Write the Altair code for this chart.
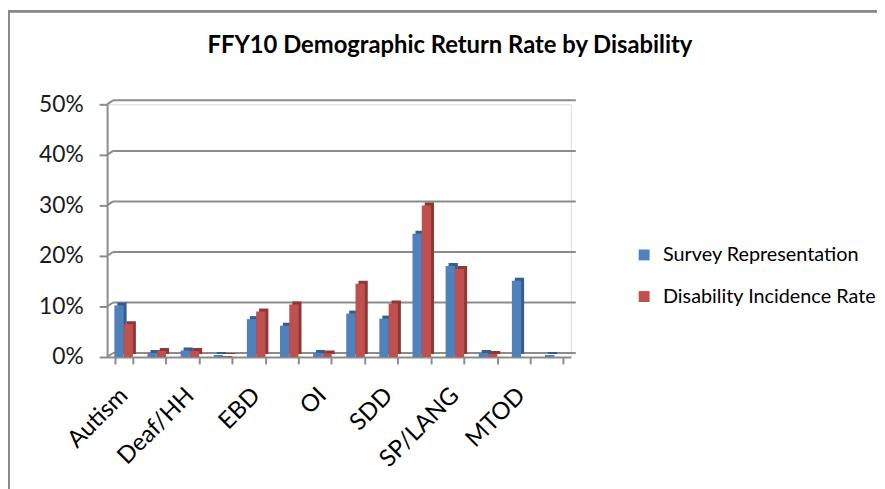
import altair as alt
import pandas as pd

categories = ["Autism", "D/B", "Deaf/HH", "DD", "EBD", "ID", "OI", "OHI",
              "SDD", "SLD", "SP/LANG", "TBI", "MTOD", "VI"]
shown_labels = ["Autism", "Deaf/HH", "EBD", "OI", "SDD", "SP/LANG", "MTOD"]
series_names = ["Survey Representation", "Disability Incidence Rate"]
survey = [10.2, 0.8, 1.3, 0.4, 7.5, 6.2, 0.8, 8.6, 7.6, 24.4, 18.0, 0.8, 15.1, 0.4]
incidence = [6.5, 1.2, 1.2, 0.2, 9.0, 10.4, 0.7, 14.5, 10.6, 30.0, 17.4, 0.6, 0.0, 0.0]
y_ticks = [0.0, 0.1, 0.2, 0.3, 0.4, 0.5]
front_colors = ["#4F81BD", "#C0504D"]
side_colors = ["#385D8A", "#8C3836"]
title_text = "FFY10 Demographic Return Rate by Disability"

rows = []
for c, s, i in zip(categories, survey, incidence):
    rows.append({"cat": c, "series": series_names[0], "value": s / 100})
    rows.append({"cat": c, "series": series_names[1], "value": i / 100})
df = pd.DataFrame(rows)
grid_df = pd.DataFrame({"v": y_ticks})

W, H = 468, 255
STEP = W / len(categories)
BAR_W = STEP * 0.28
FONT = "Lato"
GRID = "#8C8C8C"

xscale = alt.Scale(domain=categories, paddingInner=0.45, paddingOuter=0.225)
yscale = alt.Scale(domain=[0, 0.5])
shown_expr = "indexof(" + str(shown_labels) + ", datum.label) >= 0 ? datum.label : ''"

x_axis = alt.Axis(title=None, labelAngle=-45, labelAlign="right", labelBaseline="middle",
                  labelExpr=shown_expr, labelFont=FONT, labelFontSize=24, labelColor="#000000",
                  labelPadding=28, tickBand="extent", tickColor=GRID, tickWidth=2, tickSize=7,
                  domainColor=GRID, domainWidth=2, grid=False, labelOverlap=False)
y_axis = alt.Axis(title=None, format=".0%", values=y_ticks, labelFont=FONT, labelFontSize=23,
                  labelColor="#1a1a1a", labelPadding=16, tickColor=GRID, tickWidth=2, tickSize=8,
                  domainColor=GRID, domainWidth=2, grid=False)

X = alt.X("cat:N", sort=categories, scale=xscale, axis=x_axis)
fill_scale = alt.Scale(domain=series_names, range=front_colors)
legend = alt.Legend(title=None, orient="none", legendX=532, legendY=142,
                    symbolType="square", symbolSize=121, symbolStrokeWidth=0,
                    labelFont=FONT, labelFontSize=20, labelColor="#000000", labelLimit=0,
                    rowPadding=22, labelOffset=9)

grid = alt.Chart(grid_df).mark_rule(color=GRID, strokeWidth=2, xOffset=6, x2Offset=5, yOffset=-4).encode(
    y=alt.Y("v:Q", scale=yscale, axis=y_axis),
    x=alt.value(0),
    x2=alt.value(W),
)
connectors = alt.Chart(grid_df).mark_rule(color=GRID, strokeWidth=2, y2Offset=-4).encode(
    y=alt.Y("v:Q", scale=yscale, axis=y_axis),
    y2=alt.Y2("v:Q"),
    x=alt.value(0),
    x2=alt.value(6),
)

bar_layers = []
for k, name in enumerate(series_names):
    sub = df[df["series"] == name]
    shift = (k - 0.5) * BAR_W
    side = alt.Chart(sub).mark_bar(width=BAR_W, xOffset=shift + 3, yOffset=-3, y2Offset=-3,
                                   fill=side_colors[k]).encode(
        x=X,
        y=alt.Y("value:Q", scale=yscale, axis=y_axis),
    )
    front = alt.Chart(sub).mark_bar(width=BAR_W, xOffset=shift).encode(
        x=X,
        y=alt.Y("value:Q", scale=yscale, axis=y_axis),
        fill=alt.Fill("series:N", sort=series_names, scale=fill_scale, legend=legend),
    )
    bar_layers.append(side)
    bar_layers.append(front)

frame_left = alt.Chart(grid_df).mark_rule(color="#8A8A8A", strokeWidth=2).encode(
    x=alt.value(-99), y=alt.value(-95), y2=alt.value(H + 140))
frame_top = alt.Chart(grid_df).mark_rule(color="#8A8A8A", strokeWidth=2).encode(
    x=alt.value(-100), x2=alt.value(W + 320), y=alt.value(-94))

chart = alt.layer(grid, connectors, *bar_layers, frame_left, frame_top).properties(
    width=W, height=H,
    padding={"left": 100, "top": 95, "right": 309, "bottom": 131},
    autosize=alt.AutoSizeParams(type="none"),
    title=alt.TitleParams(title_text, font=FONT, fontSize=24, fontWeight="bold", color="#000000",
                          anchor="middle", frame="group", dx=112, offset=0, dy=49),
).configure_view(stroke="transparent", strokeWidth=0).configure(background="#FFFFFF")

chart.save("out.html", embed_options={"renderer": "svg", "actions": False})
